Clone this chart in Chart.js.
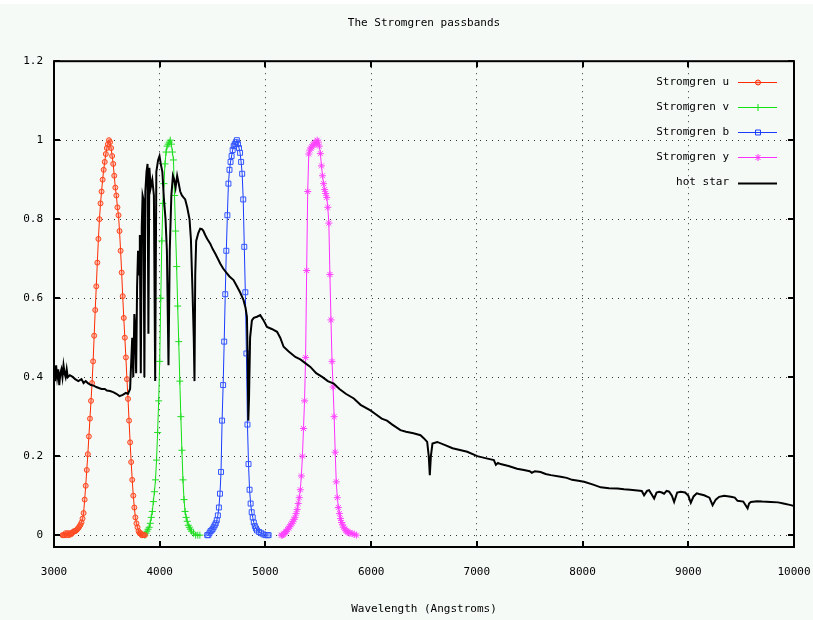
<!DOCTYPE html>
<html>
<head>
<meta charset="utf-8">
<title>The Stromgren passbands</title>
<script src="https://cdn.jsdelivr.net/npm/chart.js@4.4.0/dist/chart.umd.min.js"></script>
<style>
  html, body { margin: 0; padding: 0; background: #fff; }
  canvas { display: block; }
</style>
</head>
<body>
<canvas id="myChart" width="813" height="620"></canvas>
<script>
// valores (aproximados)
const xTicks = [3000, 4000, 5000, 6000, 7000, 8000, 9000, 10000]
const yTicks = [0, 0.2, 0.4, 0.6, 0.8, 1, 1.2]

const uWave = [3080,3090,3100,3110,3120,3130,3140,3150,3160,3170,3180,3190,3200,3210,3220,3230,3240,3250,
  3260,3270,3280,3290,3300,3310,3320,3330,3340,3350,3360,3370,3380,3390,3400,3410,3420,3430,3440,3450,
  3460,3470,3480,3490,3500,3510,3520,3530,3540,3550,3560,3570,3580,3590,3600,3610,3620,3630,3640,3650,
  3660,3670,3680,3690,3700,3710,3720,3730,3740,3750,3760,3770,3780,3790,3800,3810,3820,3830,3840,3850,3860]
const uResp = [0,0,0,0.005,0,0.005,0,0.005,0.002,0.005,0.008,0.01,0.01,0.012,0.015,0.018,0.022,0.026,
  0.032,0.042,0.056,0.09,0.125,0.165,0.205,0.25,0.295,0.34,0.385,0.44,0.505,0.57,0.63,0.69,0.75,0.8,0.84,0.87,
  0.9,0.925,0.945,0.965,0.98,0.99,1,0.995,0.98,0.96,0.94,0.91,0.88,0.86,0.83,0.81,0.77,0.72,0.665,0.605,
  0.55,0.5,0.45,0.395,0.345,0.29,0.235,0.185,0.14,0.1,0.07,0.045,0.03,0.02,0.01,0.005,0.005,0,0,0,0]

const vWave = [3860,3870,3880,3890,3900,3910,3920,3930,3940,3950,3960,3970,3980,3990,4000,4010,4020,4030,
  4040,4050,4060,4070,4080,4090,4100,4110,4120,4130,4140,4150,4160,4170,4180,4190,4200,4210,4220,4230,
  4240,4250,4260,4270,4280,4290,4300,4320,4340,4360,4380]
const vResp = [0,0.005,0.01,0.015,0.02,0.03,0.045,0.06,0.085,0.11,0.14,0.19,0.26,0.34,0.44,0.6,0.745,0.84,
  0.89,0.94,0.97,0.985,0.99,0.995,1,0.99,0.97,0.95,0.86,0.77,0.68,0.58,0.49,0.39,0.3,0.215,0.14,0.09,
  0.06,0.045,0.035,0.025,0.02,0.015,0.01,0.005,0,0,0]

const bWave = [4450,4460,4470,4480,4490,4500,4510,4520,4530,4540,4550,4560,4570,4580,4590,4600,4610,4620,
  4630,4640,4650,4660,4670,4680,4690,4700,4710,4720,4730,4740,4750,4760,4770,4780,4790,4800,4810,4820,
  4830,4840,4850,4860,4870,4880,4890,4900,4910,4920,4940,4960,4980,5000,5020,5030]
const bResp = [0,0,0.005,0.01,0.012,0.015,0.02,0.025,0.03,0.038,0.05,0.07,0.105,0.16,0.29,0.38,0.49,0.61,
  0.72,0.81,0.89,0.925,0.945,0.96,0.975,0.985,0.99,0.995,1,0.99,0.98,0.968,0.945,0.915,0.85,0.73,0.615,0.46,
  0.28,0.18,0.115,0.08,0.058,0.045,0.032,0.023,0.017,0.012,0.008,0.005,0.002,0,0,0]

const yWave = [5150,5160,5170,5180,5190,5200,5210,5220,5230,5240,5250,5260,5270,5280,5290,5300,5310,5320,
  5330,5340,5350,5360,5370,5380,5390,5400,5410,5420,5430,5440,5450,5460,5470,5480,5490,5500,5510,5520,
  5530,5540,5550,5560,5570,5580,5590,5600,5610,5620,5630,5640,5650,5660,5670,5680,5690,5700,5710,5720,
  5730,5740,5750,5760,5770,5780,5790,5800,5820,5840,5860]
const yResp = [0,0,0.002,0.005,0.008,0.01,0.014,0.018,0.022,0.026,0.03,0.035,0.04,0.045,0.055,0.065,0.08,0.095,
  0.115,0.15,0.2,0.27,0.34,0.45,0.67,0.87,0.965,0.975,0.98,0.983,0.988,0.99,0.995,0.99,1,0.995,0.985,0.966,
  0.935,0.91,0.89,0.875,0.865,0.855,0.83,0.79,0.66,0.545,0.44,0.375,0.3,0.21,0.135,0.095,0.07,0.055,0.042,0.032,
  0.026,0.02,0.016,0.012,0.01,0.008,0.006,0.005,0.004,0.002,0]

const starWave = [3000,3010,3020,3030,3040,3050,3060,3070,3080,3090,3100,3110,3120,3130,3150,3180,3200,3230,
  3260,3280,3300,3320,3350,3380,3400,3430,3450,3480,3500,3530,3560,3590,3620,3650,3680,3700,3720,3732,
  3740,3750,3760,3768,3777,3786,3795,3805,3812,3821,3830,3838,3846,3855,3864,3875,3885,3893,3902,3915,
  3930,3945,3957,3968,3985,3998,4010,4025,4040,4055,4068,4083,4095,4110,4125,4137,4150,4165,4180,4194,
  4210,4225,4241,4260,4282,4295,4310,4322,4329,4336,4345,4365,4383,4400,4414,4430,4450,4478,4500,4525,
  4550,4572,4600,4630,4660,4698,4730,4760,4793,4812,4825,4832,4838,4845,4855,4872,4890,4920,4951,4980,
  5015,5060,5110,5140,5172,5220,5283,5330,5380,5425,5480,5540,5590,5646,5700,5760,5836,5900,5993,6050,
  6100,6150,6200,6277,6330,6400,6467,6500,6530,6545,6555,6565,6580,6625,6700,6770,6850,6909,7004,7080,
  7161,7180,7200,7224,7300,7380,7445,7500,7520,7550,7603,7650,7700,7793,7850,7900,7960,8014,8100,8172,
  8250,8330,8392,8450,8519,8560,8582,8610,8629,8650,8677,8700,8724,8750,8771,8795,8819,8845,8866,8895,
  8929,8970,9000,9024,9050,9080,9103,9150,9200,9230,9260,9292,9340,9403,9440,9466,9520,9561,9575,9592,
  9650,9700,9781,9850,9900,9970,10000]
const starFlux = [0.42,0.39,0.43,0.4,0.42,0.38,0.41,0.42,0.4,0.43,0.41,0.4,0.42,0.4,0.405,0.4,0.395,0.39,
  0.395,0.385,0.39,0.385,0.38,0.378,0.375,0.372,0.37,0.37,0.366,0.365,0.362,0.358,0.352,0.355,0.36,0.358,0.37,0.45,
  0.5,0.4,0.56,0.52,0.41,0.63,0.72,0.66,0.76,0.41,0.78,0.86,0.85,0.4,0.87,0.92,0.94,0.51,0.93,0.88,
  0.9,0.86,0.39,0.92,0.95,0.96,0.94,0.92,0.85,0.8,0.72,0.43,0.72,0.86,0.91,0.9,0.88,0.91,0.89,0.87,
  0.86,0.855,0.85,0.83,0.8,0.75,0.62,0.5,0.39,0.66,0.745,0.765,0.776,0.775,0.77,0.76,0.75,0.738,0.725,0.713,
  0.7,0.688,0.675,0.665,0.655,0.646,0.63,0.615,0.595,0.575,0.553,0.45,0.29,0.35,0.5,0.544,0.55,0.553,0.557,0.545,
  0.527,0.522,0.515,0.5,0.477,0.465,0.451,0.445,0.435,0.426,0.41,0.4,0.39,0.384,0.37,0.358,0.346,0.33,0.316,0.305,
  0.295,0.29,0.28,0.266,0.262,0.258,0.253,0.245,0.236,0.2,0.152,0.2,0.232,0.236,0.228,0.22,0.215,0.211,0.2,0.195,
  0.19,0.178,0.183,0.18,0.175,0.168,0.165,0.162,0.158,0.162,0.16,0.155,0.152,0.148,0.145,0.14,0.138,0.135,0.128,0.121,
  0.119,0.118,0.116,0.115,0.113,0.112,0.101,0.112,0.114,0.105,0.093,0.108,0.11,0.108,0.105,0.112,0.11,0.1,0.084,0.108,
  0.11,0.108,0.1,0.082,0.098,0.106,0.104,0.101,0.095,0.076,0.09,0.097,0.1,0.097,0.095,0.087,0.085,0.068,0.08,0.084,
  0.086,0.085,0.084,0.083,0.08,0.076,0.074]

const fonte = { family: '"DejaVu Sans Mono", monospace', size: 11, weight: 'normal' }
const pts = (xs, ys) => xs.map((x, i) => ({ x: x, y: ys[i] }))

// moldura, marcas de escala e legenda no estilo do gnuplot
const plotDecor = {
  id: 'plotDecor',
  beforeDraw(chart) {
    const c = chart.ctx
    c.save()
    c.fillStyle = '#f5faf7'
    c.fillRect(0, 4, chart.width, chart.height - 4)
    c.restore()
  },
  afterDatasetsDraw(chart) {
    const c = chart.ctx
    const a = chart.chartArea
    const sx = chart.scales.x
    const sy = chart.scales.y
    c.save()
    c.strokeStyle = '#000'
    c.lineWidth = 2
    c.strokeRect(a.left, a.top, a.right - a.left, a.bottom - a.top)
    c.beginPath()
    xTicks.forEach(v => {
      const px = Math.round(sx.getPixelForValue(v))
      c.moveTo(px, a.bottom); c.lineTo(px, a.bottom - 6)
      c.moveTo(px, a.top); c.lineTo(px, a.top + 6)
    })
    yTicks.forEach(v => {
      const py = Math.round(sy.getPixelForValue(v))
      c.moveTo(a.left, py); c.lineTo(a.left + 6, py)
      c.moveTo(a.right, py); c.lineTo(a.right - 6, py)
    })
    c.stroke()

    c.font = '11px "DejaVu Sans Mono", monospace'
    c.textAlign = 'right'
    c.textBaseline = 'middle'
    chart.data.datasets.forEach((ds, i) => {
      const y = a.top + 20.5 + i * 25.2
      c.fillStyle = '#000'
      c.fillText(ds.label, a.right - 65, y)
      c.strokeStyle = ds.borderColor
      c.lineWidth = ds.borderWidth
      c.beginPath()
      c.moveTo(a.right - 56, Math.round(y) + 0.5)
      c.lineTo(a.right - 17, Math.round(y) + 0.5)
      c.stroke()
      if (ds.pointRadius > 0) {
        c.fillStyle = ds.pointBackgroundColor
        c.lineWidth = 1
        Chart.helpers.drawPoint(c, { pointStyle: ds.pointStyle, radius: ds.pointRadius, rotation: 0, borderWidth: 1 }, a.right - 36, Math.round(y) + 0.5)
      }
    })
    c.restore()
  }
}

let ctx = document.getElementById('myChart').getContext('2d')

let passbands = new Chart(ctx, {
  type: 'line',
  data: {
    datasets: [
      {
        label: 'Stromgren u',
        data: pts(uWave, uResp),
        borderColor: '#ff2a00',
        borderWidth: 1,
        pointStyle: 'circle',
        pointRadius: 2.5,
        pointBackgroundColor: 'rgba(255,90,60,0.35)',
        pointBorderColor: '#ff4a20',
        order: 1
      },
      {
        label: 'Stromgren v',
        data: pts(vWave, vResp),
        borderColor: '#11e011',
        borderWidth: 1,
        pointStyle: 'cross',
        pointRadius: 3.5,
        pointBackgroundColor: 'rgba(0,0,0,0)',
        pointBorderColor: '#22dd22',
        order: 1
      },
      {
        label: 'Stromgren b',
        data: pts(bWave, bResp),
        borderColor: '#1a3cff',
        borderWidth: 1,
        pointStyle: 'rect',
        pointRadius: 3.5,
        pointBackgroundColor: 'rgba(0,0,0,0)',
        pointBorderColor: '#3355ff',
        order: 1
      },
      {
        label: 'Stromgren y',
        data: pts(yWave, yResp),
        borderColor: '#ff30ff',
        borderWidth: 1,
        pointStyle: 'star',
        pointRadius: 3.5,
        pointBackgroundColor: 'rgba(0,0,0,0)',
        pointBorderColor: '#ff44ff',
        order: 1
      },
      {
        label: 'hot star',
        data: pts(starWave, starFlux),
        borderColor: '#000',
        borderWidth: 2,
        pointRadius: 0,
        order: 0
      }
    ]
  },
  options: {
    responsive: false,
    animation: false,
    events: [],
    elements: { line: { tension: 0 } },
    layout: { padding: { top: 0, left: 0, right: 19, bottom: 0 } },
    plugins: {
      legend: { display: false },
      tooltip: { enabled: false },
      title: {
        display: true,
        fullSize: false,
        text: 'The Stromgren passbands',
        color: '#000',
        font: fonte,
        padding: { top: 17, bottom: 31 }
      }
    },
    scales: {
      x: {
        type: 'linear',
        min: 3000,
        max: 10000,
        afterBuildTicks: s => { s.ticks = xTicks.map(v => ({ value: v })) },
        afterFit: s => { s.height = 73; s.paddingLeft = 0; s.paddingRight = 0 },
        ticks: { color: '#000', font: fonte, padding: 19, maxRotation: 0, callback: v => String(v) },
        grid: { color: '#333', lineWidth: 1, drawTicks: false },
        border: { display: false, dash: [1, 5] },
        title: { display: true, text: 'Wavelength (Angstroms)', color: '#000', font: fonte, padding: { top: 0, bottom: 4 } }
      },
      y: {
        min: -0.03,
        max: 1.2,
        afterBuildTicks: s => { s.ticks = yTicks.map(v => ({ value: v })) },
        afterFit: s => { s.width = 54; s.paddingTop = 0; s.paddingBottom = 0 },
        ticks: { color: '#000', font: fonte, padding: 11, callback: v => String(Math.round(v * 10) / 10) },
        grid: { color: '#333', lineWidth: 1, drawTicks: false },
        border: { display: false, dash: [1, 5] }
      }
    }
  },
  plugins: [plotDecor]
})
</script>
</body>
</html>
